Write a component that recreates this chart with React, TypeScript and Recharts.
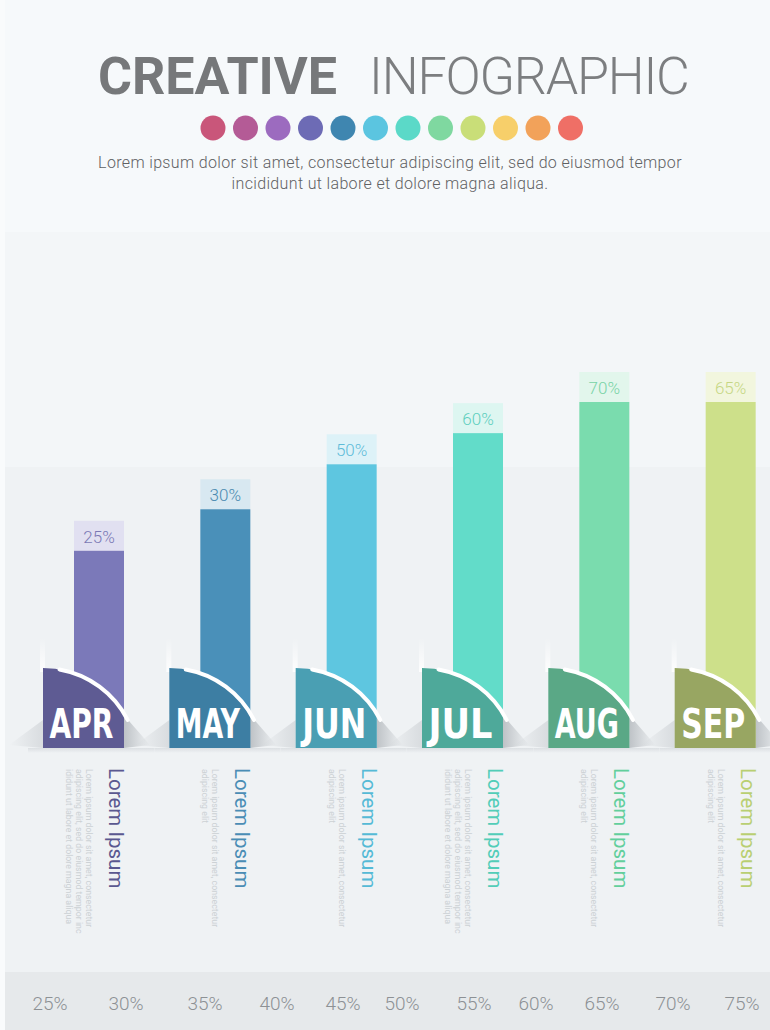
import { BarChart, Bar, XAxis, YAxis } from 'recharts';

// months shown on the tabs
const months = ['APR', 'MAY', 'JUN', 'JUL', 'AUG', 'SEP'];
// bar lengths as drawn (0-100 of the tallest bar)
const barHeights = [57, 69, 82, 91, 100, 100];
// the percent captions printed above each bar
const percentLabels = ['25%', '30%', '50%', '60%', '70%', '65%'];
// bottom strip labels
const scaleLabels = ['25%', '30%', '35%', '40%', '45%', '50%', '55%', '60%', '65%', '70%', '75%'];
const noteLineCounts = [3, 2, 2, 3, 2, 2];

const barColors = ['#7b79b9', '#4a90b9', '#5ec6e0', '#62dcc9', '#7adcae', '#cde08a'];
const tabColors = ['#5e5b93', '#3d7ea3', '#4a9fb3', '#4ea99a', '#5aa886', '#98a662'];
const titleColors = ['#5a5890', '#4a8db5', '#55bad6', '#52cdb8', '#62cf9c', '#b9cf72'];
const boxColors = ['#e1e0f1', '#d8e8f1', '#ddf2f8', '#ddf6f1', '#e2f6ec', '#f2f6de'];
const boxTextColors = ['#7b79b5', '#4a8ab0', '#5dbcd8', '#5ecfbe', '#78d3a6', '#c6d684'];
const dotColors = [
  '#c9567a', '#b45b96', '#9c6bbf', '#6d6bb5', '#3f86b0', '#5bc5e0',
  '#5bd9c8', '#7fd8a0', '#c9de78', '#f7cf6a', '#f2a25a', '#ef6f66',
];

const longNote = [
  'Lorem ipsum dolor sit amet, consectetur',
  'adipiscing elit, sed do eiusmod tempor inc',
  'ididunt ut labore et dolore magna aliqua',
];
const shortNote = ['Lorem ipsum dolor sit amet, consectetur', 'adipiscing elit'];

// x centres of the bottom strip labels (layout only)
const scaleLabelX = [50, 126, 205, 277, 343, 402, 474, 536, 602, 673, 742];

const data = months.map((m, i) => ({
  month: m,
  value: barHeights[i],
  label: percentLabels[i],
  idx: i,
}));

const condensed = "'DejaVu Sans Condensed', 'DejaVu Sans', sans-serif";

const TabBar = (props: any) => {
  const { x, y, width, height } = props;
  const i = props.payload?.idx ?? props.index;
  const bottom = y + height;
  const barW = (width * 50) / 81;
  const barX = x + width - barW;
  const right = x + width;
  const tabTop = bottom - 80;
  const r = 95;
  const endY = tabTop + r - Math.sqrt(r * r - width * width);
  const a0 = (10 * Math.PI) / 180;
  const a1 = (63 * Math.PI) / 180;
  const arcStart = [x + r * Math.sin(a0), tabTop + r - r * Math.cos(a0)];
  const arcEnd = [x + r * Math.sin(a1), tabTop + r - r * Math.cos(a1)];
  const notes = noteLineCounts[i] === 3 ? longNote : shortNote;

  return (
    <g>
      <defs>
        <linearGradient id={`fold-${i}`} x1="0" y1="0" x2="1" y2="0">
          <stop offset="0%" stopColor="#a9aeb3" stopOpacity={0.7} />
          <stop offset="100%" stopColor="#a9aeb3" stopOpacity={0} />
        </linearGradient>
        <linearGradient id={`left-${i}`} x1="1" y1="0" x2="0" y2="0">
          <stop offset="0%" stopColor="#c9cdd1" stopOpacity={0.6} />
          <stop offset="100%" stopColor="#c9cdd1" stopOpacity={0} />
        </linearGradient>
        <linearGradient id={`under-${i}`} x1="0" y1="0" x2="0" y2="1">
          <stop offset="0%" stopColor="#cfd3d7" stopOpacity={0.6} />
          <stop offset="100%" stopColor="#cfd3d7" stopOpacity={0} />
        </linearGradient>
        <linearGradient id={`hl-${i}`} x1="0" y1="0" x2="0" y2="1">
          <stop offset="0%" stopColor="#ffffff" stopOpacity={0} />
          <stop offset="100%" stopColor="#ffffff" stopOpacity={0.9} />
        </linearGradient>
      </defs>

      {/* value box */}
      <rect x={barX} y={y - 30} width={barW} height={30} fill={boxColors[i]} />
      <text
        x={barX + barW / 2}
        y={y - 8}
        textAnchor="middle"
        fontSize={17}
        fontWeight={300}
        fontFamily="Roboto, sans-serif"
        fill={boxTextColors[i]}
      >
        {props.payload?.label ?? percentLabels[i]}
      </text>

      {/* bar */}
      <rect x={barX} y={y} width={barW} height={height} fill={barColors[i]} />

      {/* shadows around the tab */}
      <polygon points={`${x},${bottom - 28} ${x - 34},${bottom - 3} ${x},${bottom}`} fill={`url(#left-${i})`} />
      <rect x={x - 15} y={bottom} width={width + 45} height={5} fill={`url(#under-${i})`} />
      <polygon
        points={`${right},${endY + 2} ${right + 26},${bottom - 3} ${right},${bottom}`}
        fill={`url(#fold-${i})`}
      />
      <rect x={x - 3} y={tabTop - 30} width={5} height={34} fill={`url(#hl-${i})`} />

      {/* tab */}
      <path
        d={`M${x},${bottom} L${x},${tabTop} A${r},${r} 0 0 1 ${right},${endY} L${right},${bottom} Z`}
        fill={tabColors[i]}
      />
      <path
        d={`M${arcStart[0]},${arcStart[1]} A${r},${r} 0 0 1 ${arcEnd[0]},${arcEnd[1]}`}
        fill="none"
        stroke="#ffffff"
        strokeWidth={4}
        strokeLinecap="round"
      />
      <text
        x={x + width / 2 - 2}
        y={bottom - 10}
        textAnchor="middle"
        fontSize={41}
        fontWeight={700}
        fontFamily={condensed}
        fill="#ffffff"
        textLength={64}
        lengthAdjust="spacingAndGlyphs"
      >
        {props.payload?.month ?? months[i]}
      </text>

      {/* vertical captions */}
      <text
        transform={`translate(${right - 15}, ${bottom + 20}) rotate(90)`}
        fontSize={20.5}
        fontFamily="Roboto, sans-serif"
        fill={titleColors[i]}
      >
        Lorem Ipsum
      </text>
      {notes.map((line, k) => (
        <text
          key={k}
          transform={`translate(${right - 38 - k * 10}, ${bottom + 21}) rotate(90)`}
          fontSize={8.8}
          fontFamily="Roboto, sans-serif"
          fill="#ccd1d5"
        >
          {line}
        </text>
      ))}
    </g>
  );
};

export default function App() {
  return (
    <div style={{ position: 'absolute', left: 0, top: 0, width: 770, height: 1030, overflow: 'hidden', background: '#f5f8fa' }}>
      <svg width={770} height={1030} style={{ position: 'absolute', left: 0, top: 0 }}>
        <rect x={0} y={0} width={770} height={232} fill="#f6f9fb" />
        <rect x={0} y={232} width={770} height={235} fill="#f3f6f8" />
        <rect x={0} y={467} width={770} height={505} fill="#eff2f4" />
        <rect x={0} y={972} width={770} height={58} fill="#e6e9eb" />
        <rect x={0} y={0} width={5} height={1030} fill="#f9fbfc" />

        <text x={98} y={94} fontSize={52} fontWeight={700} fontFamily="Roboto, sans-serif" fill="#76787a">
          CREATIVE
        </text>
        <text
          x={369}
          y={94}
          fontSize={52}
          fontWeight={300}
          letterSpacing={-1.2}
          fontFamily="Roboto, sans-serif"
          fill="#7c7e80"
        >
          INFOGRAPHIC
        </text>
        {dotColors.map((c, i) => (
          <circle key={c} cx={213 + i * 32.5} cy={128} r={12.5} fill={c} />
        ))}
        <text
          x={390}
          y={168}
          textAnchor="middle"
          fontSize={16}
          fontWeight={300}
          letterSpacing={0.35}
          fontFamily="Roboto, sans-serif"
          fill="#5f6163"
        >
          Lorem ipsum dolor sit amet, consectetur adipiscing elit, sed do eiusmod tempor
        </text>
        <text
          x={390}
          y={189}
          textAnchor="middle"
          fontSize={16}
          fontWeight={300}
          letterSpacing={0.35}
          fontFamily="Roboto, sans-serif"
          fill="#5f6163"
        >
          incididunt ut labore et dolore magna aliqua.
        </text>

        {scaleLabels.map((t, i) => (
          <text
            key={t}
            x={scaleLabelX[i]}
            y={1010}
            textAnchor="middle"
            fontSize={19}
            fontWeight={300}
            fontFamily="Roboto, sans-serif"
            fill="#8d9195"
          >
            {t}
          </text>
        ))}
      </svg>

      <div style={{ position: 'absolute', left: 0, top: 0 }}>
        <BarChart width={778} height={1030} data={data} margin={{ top: 402, right: 0, bottom: 282, left: 20 }}>
          <XAxis dataKey="month" hide />
          <YAxis domain={[0, 100]} hide />
          <Bar dataKey="value" barSize={81} shape={TabBar} isAnimationActive={false} />
        </BarChart>
      </div>
    </div>
  );
}
